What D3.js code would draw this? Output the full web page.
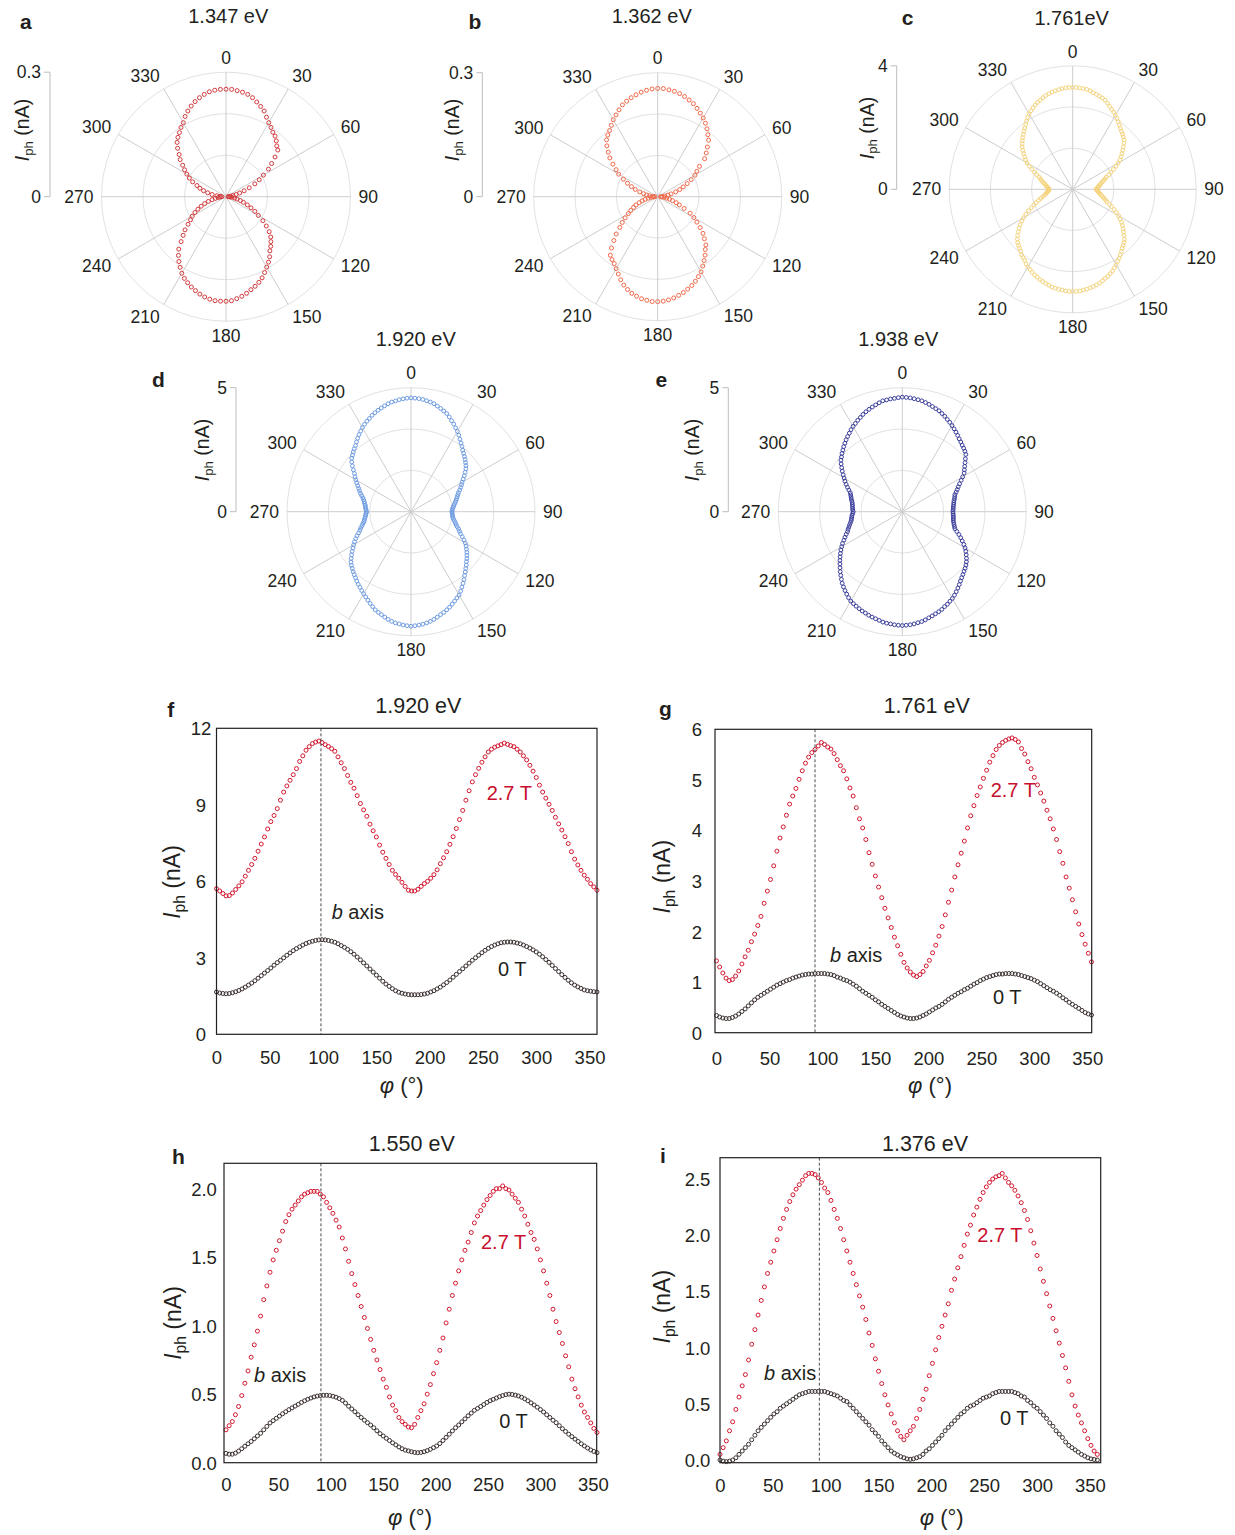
<!DOCTYPE html>
<html><head><meta charset="utf-8">
<script src="https://cdn.jsdelivr.net/npm/d3@7"></script>
<style>
body{margin:0;background:#fff}
svg{display:block}
text{font-family:"Liberation Sans",Arial,Helvetica,sans-serif;fill:#231f20}
</style>
</head><body>
<svg id="chart" width="1235" height="1535"></svg>
<script>
// ---------------- DATA ----------------
const angleTicks = [0,30,60,90,120,150,180,210,240,270,300,330];
const polarStepAB = 3;   // degrees between points, panels a,b
const polarStepCDE = 2;  // degrees between points, panels c,d,e
const polarTitles = ["1.347 eV","1.362 eV","1.761eV","1.920 eV","1.938 eV"];
const polarScaleMax = [0.3, 0.3, 4, 5, 5];
const polarScaleLabels = ["0.3","0.3","4","5","5"];

// Panel a (nA), 0..357 step 3
const polarA = [.259,.259,.257,.255,.252,.247,.240,.233,.226,.215,
 .206,.199,.192,.188,.181,.173,.168,.152,.136,.122,
 .104,.090,.076,.060,.046,.034,.025,.017,.011,.007,
 .005,.009,.014,.021,.027,.036,.044,.055,.066,.078,
 .090,.106,.120,.134,.145,.153,.161,.168,.179,.188,
 .196,.205,.214,.221,.227,.232,.238,.243,.247,.251,
 .252,.252,.252,.250,.247,.243,.238,.233,.227,.221,
 .213,.203,.193,.182,.170,.153,.139,.127,.113,.102,
 .094,.084,.074,.064,.054,.044,.034,.026,.019,.014,
 .010,.014,.022,.034,.045,.056,.066,.075,.088,.099,
 .109,.119,.129,.142,.152,.165,.176,.184,.191,.199,
 .206,.217,.226,.234,.241,.247,.252,.256,.258,.259];
// Panel b (nA), 0..357 step 3
const polarB = [.262,.262,.260,.258,.255,.251,.246,.241,.234,.227,
 .220,.212,.203,.193,.184,.170,.158,.146,.125,.113,
 .104,.091,.078,.066,.056,.045,.033,.025,.017,.010,
 .007,.010,.016,.022,.029,.037,.047,.056,.070,.088,
 .101,.113,.127,.141,.152,.165,.172,.182,.191,.200,
 .210,.217,.224,.230,.235,.240,.244,.248,.251,.253,
 .254,.254,.252,.250,.246,.242,.236,.229,.220,.210,
 .201,.193,.188,.182,.167,.150,.135,.118,.106,.094,
 .082,.073,.064,.056,.047,.039,.031,.023,.016,.010,
 .007,.012,.020,.027,.035,.045,.057,.068,.080,.093,
 .109,.120,.134,.149,.161,.174,.185,.192,.198,.206,
 .215,.222,.230,.238,.243,.248,.252,.256,.259,.261];
// Panel c (nA), 0..358 step 2
const polarC = [3.30,3.30,3.29,3.28,3.27,3.24,3.20,3.17,3.14,3.11,3.07,3.01,2.94,2.88,2.83,2.77,2.70,2.64,2.57,2.51,2.46,2.41,2.36,2.31,2.23,2.14,2.05,1.97,1.89,1.80,1.70,1.59,1.47,1.36,1.26,1.16,1.10,1.04,0.99,0.94,0.91,0.87,0.84,0.81,0.78,
 0.76,0.78,0.81,0.84,0.87,0.91,0.95,1.00,1.05,1.12,1.18,1.28,1.38,1.49,1.60,1.72,1.81,1.91,1.99,2.07,2.15,2.23,2.33,2.39,2.44,2.49,2.56,2.62,2.69,2.75,2.82,2.88,2.94,2.99,3.04,3.07,3.12,3.16,3.19,3.22,3.24,3.27,3.28,3.30,3.31,
 3.31,3.31,3.30,3.28,3.27,3.25,3.24,3.20,3.17,3.14,3.11,3.07,3.04,2.99,2.94,2.91,2.85,2.78,2.73,2.69,2.62,2.57,2.52,2.48,2.41,2.33,2.23,2.15,2.05,1.94,1.84,1.72,1.59,1.47,1.36,1.26,1.16,1.08,1.00,0.94,0.89,0.86,0.83,0.79,0.78,
 0.77,0.78,0.81,0.84,0.87,0.91,0.95,1.00,1.05,1.10,1.16,1.26,1.36,1.47,1.59,1.71,1.80,1.88,1.96,2.05,2.14,2.20,2.27,2.33,2.39,2.46,2.52,2.59,2.67,2.75,2.82,2.88,2.94,2.99,3.04,3.07,3.12,3.16,3.19,3.22,3.24,3.26,3.28,3.29,3.30];
// Panel d (nA), 0..358 step 2
const polarD = [4.59,4.58,4.57,4.55,4.52,4.49,4.45,4.39,4.33,4.27,4.21,4.12,4.02,3.93,3.83,3.74,3.64,3.53,3.43,3.34,3.24,3.17,3.10,3.03,2.96,2.89,2.81,2.70,2.59,2.48,2.38,2.31,2.23,2.15,2.06,2.01,1.96,1.91,1.87,1.83,1.78,1.74,1.71,1.68,1.66,
 1.65,1.66,1.67,1.69,1.70,1.74,1.79,1.84,1.89,1.96,2.04,2.11,2.19,2.30,2.42,2.53,2.62,2.70,2.78,2.86,2.94,3.01,3.10,3.18,3.27,3.36,3.47,3.57,3.67,3.78,3.88,3.94,4.01,4.08,4.15,4.21,4.27,4.32,4.38,4.44,4.49,4.53,4.56,4.58,4.60,
 4.62,4.60,4.58,4.55,4.53,4.49,4.44,4.38,4.32,4.27,4.21,4.13,4.05,3.97,3.89,3.82,3.75,3.68,3.62,3.55,3.48,3.42,3.36,3.29,3.23,3.16,3.06,2.96,2.86,2.76,2.67,2.58,2.48,2.38,2.28,2.19,2.13,2.06,2.00,1.94,1.91,1.88,1.85,1.83,1.81,
 1.79,1.81,1.83,1.85,1.86,1.90,1.93,1.97,2.02,2.09,2.17,2.24,2.31,2.39,2.48,2.57,2.66,2.75,2.87,3.00,3.12,3.22,3.28,3.35,3.42,3.48,3.57,3.66,3.75,3.83,3.92,3.99,4.06,4.12,4.19,4.25,4.30,4.35,4.40,4.45,4.49,4.51,4.54,4.56,4.58];
// Panel e (nA), 0..358 step 2
const polarE = [4.62,4.61,4.60,4.58,4.56,4.54,4.50,4.46,4.41,4.37,4.33,4.27,4.21,4.14,4.08,4.01,3.94,3.87,3.80,3.73,3.67,3.61,3.56,3.51,3.45,3.32,3.21,3.11,3.02,2.94,2.81,2.69,2.57,2.47,2.39,2.31,2.23,2.20,2.17,2.13,2.11,2.09,2.07,2.06,2.05,
 2.04,2.05,2.06,2.07,2.08,2.09,2.12,2.15,2.19,2.23,2.34,2.46,2.58,2.69,2.81,2.92,3.02,3.11,3.20,3.28,3.35,3.41,3.46,3.52,3.58,3.65,3.73,3.81,3.89,3.97,4.04,4.09,4.15,4.19,4.25,4.29,4.33,4.37,4.41,4.46,4.50,4.52,4.55,4.57,4.58,
 4.59,4.58,4.57,4.55,4.54,4.52,4.48,4.45,4.42,4.39,4.35,4.32,4.28,4.24,4.20,4.16,4.09,4.01,3.93,3.85,3.77,3.67,3.57,3.48,3.38,3.28,3.19,3.10,3.01,2.92,2.82,2.73,2.62,2.53,2.44,2.35,2.30,2.24,2.19,2.14,2.09,2.07,2.05,2.03,2.00,
 1.98,2.00,2.01,2.02,2.03,2.05,2.08,2.12,2.15,2.19,2.23,2.32,2.42,2.52,2.62,2.71,2.81,2.92,3.02,3.13,3.23,3.30,3.38,3.45,3.53,3.60,3.68,3.75,3.82,3.90,3.97,4.03,4.10,4.16,4.23,4.29,4.34,4.39,4.44,4.49,4.54,4.55,4.57,4.58,4.60];

// Cartesian panels: phi = index * cartStep (degrees)
const cartStep = 3;
const cartTitles = ["1.920 eV","1.761 eV","1.550 eV","1.376 eV"];
const seriesNames = ["2.7 T","0 T"];
const xTicks = [0,50,100,150,200,250,300,350];
const fYTicks = [0,3,6,9,12];
const gYTicks = [0,1,2,3,4,5,6];
const hYTicks = [0,0.5,1,1.5,2];
const iYTicks = [0,0.5,1,1.5,2,2.5];

const fHigh = [5.71,5.62,5.52,5.43,5.44,5.54,5.68,5.82,5.98,6.20,
 6.43,6.66,6.90,7.18,7.46,7.74,8.05,8.34,8.58,8.85,
 9.18,9.50,9.74,9.96,10.18,10.42,10.70,10.92,11.14,11.28,
 11.40,11.46,11.50,11.44,11.36,11.29,11.20,11.10,10.88,10.65,
 10.42,10.15,9.88,9.65,9.36,9.05,8.80,8.55,8.24,7.98,
 7.74,7.42,7.14,6.90,6.66,6.43,6.27,6.12,5.96,5.80,
 5.65,5.62,5.62,5.69,5.80,5.91,6.00,6.12,6.26,6.45,
 6.69,6.92,7.16,7.45,7.75,8.07,8.42,8.78,9.18,9.55,
 9.90,10.18,10.43,10.67,10.88,11.07,11.18,11.26,11.31,11.36,
 11.42,11.37,11.32,11.28,11.18,11.07,10.92,10.76,10.55,10.32,
 10.07,9.77,9.50,9.26,9.02,8.78,8.51,8.25,8.01,7.75,
 7.48,7.16,6.87,6.64,6.43,6.24,6.08,5.91,5.78,5.65];
const fZero = [1.66,1.62,1.60,1.59,1.60,1.63,1.67,1.72,1.78,1.85,
 1.93,2.01,2.10,2.20,2.30,2.40,2.50,2.60,2.71,2.81,
 2.90,3.00,3.10,3.19,3.28,3.36,3.43,3.50,3.56,3.61,
 3.65,3.68,3.70,3.71,3.70,3.68,3.65,3.61,3.55,3.48,
 3.41,3.33,3.24,3.14,3.03,2.92,2.80,2.68,2.56,2.44,
 2.32,2.20,2.08,1.97,1.88,1.79,1.71,1.65,1.61,1.58,
 1.56,1.55,1.55,1.55,1.56,1.58,1.61,1.66,1.71,1.78,
 1.85,1.94,2.03,2.13,2.24,2.35,2.46,2.57,2.68,2.79,
 2.90,3.00,3.10,3.20,3.29,3.37,3.44,3.50,3.55,3.59,
 3.61,3.62,3.62,3.61,3.58,3.55,3.50,3.44,3.38,3.31,
 3.23,3.14,3.04,2.93,2.82,2.70,2.58,2.46,2.34,2.23,
 2.12,2.02,1.93,1.86,1.80,1.74,1.71,1.69,1.67,1.66];
const gHigh = [1.42,1.30,1.18,1.08,1.03,1.05,1.12,1.22,1.36,1.50,
 1.63,1.80,1.95,2.12,2.30,2.56,2.80,3.03,3.30,3.59,
 3.85,4.07,4.30,4.52,4.68,4.83,5.01,5.18,5.33,5.45,
 5.54,5.60,5.67,5.74,5.70,5.65,5.61,5.52,5.40,5.28,
 5.18,5.02,4.84,4.68,4.45,4.23,4.05,3.82,3.56,3.33,
 3.10,2.88,2.67,2.46,2.27,2.08,1.89,1.72,1.55,1.39,
 1.28,1.20,1.14,1.11,1.15,1.21,1.32,1.43,1.58,1.73,
 1.91,2.10,2.33,2.58,2.82,3.08,3.32,3.55,3.79,4.05,
 4.29,4.49,4.69,4.86,5.03,5.19,5.35,5.48,5.60,5.68,
 5.74,5.78,5.81,5.83,5.80,5.75,5.62,5.51,5.36,5.22,
 5.05,4.90,4.74,4.58,4.40,4.23,4.03,3.82,3.58,3.35,
 3.08,2.86,2.63,2.39,2.15,1.94,1.75,1.57,1.40];
const gZero = [0.34,0.31,0.29,0.28,0.28,0.30,0.33,0.37,0.42,0.47,
 0.53,0.59,0.65,0.70,0.74,0.78,0.82,0.86,0.90,0.94,
 0.97,1.00,1.03,1.05,1.08,1.10,1.12,1.14,1.15,1.16,
 1.16,1.17,1.17,1.17,1.17,1.16,1.15,1.13,1.10,1.08,
 1.05,1.03,1.00,0.96,0.92,0.87,0.82,0.78,0.74,0.70,
 0.65,0.61,0.56,0.52,0.48,0.44,0.40,0.36,0.33,0.31,
 0.29,0.28,0.28,0.29,0.31,0.34,0.37,0.41,0.45,0.49,
 0.52,0.56,0.61,0.66,0.70,0.74,0.78,0.81,0.85,0.88,
 0.92,0.96,0.99,1.03,1.06,1.09,1.11,1.13,1.15,1.16,
 1.16,1.17,1.17,1.17,1.16,1.15,1.13,1.11,1.09,1.07,
 1.04,1.01,0.97,0.93,0.89,0.85,0.82,0.78,0.74,0.69,
 0.65,0.60,0.56,0.52,0.48,0.44,0.40,0.37,0.35];
const hHigh = [0.24,0.27,0.30,0.35,0.41,0.49,0.58,0.67,0.77,0.86,
 0.96,1.07,1.19,1.29,1.39,1.48,1.55,1.62,1.69,1.76,
 1.81,1.85,1.88,1.91,1.94,1.96,1.97,1.98,1.98,1.98,
 1.96,1.94,1.90,1.86,1.82,1.77,1.72,1.64,1.56,1.47,
 1.38,1.30,1.22,1.14,1.06,0.98,0.90,0.82,0.75,0.68,
 0.61,0.55,0.48,0.42,0.38,0.33,0.30,0.28,0.26,0.255,
 0.28,0.33,0.38,0.43,0.50,0.57,0.65,0.73,0.82,0.91,
 1.02,1.12,1.22,1.31,1.40,1.48,1.55,1.61,1.68,1.75,
 1.80,1.84,1.88,1.92,1.95,1.98,2.00,2.00,2.02,2.00,
 1.99,1.96,1.93,1.90,1.85,1.80,1.74,1.68,1.63,1.56,
 1.48,1.40,1.31,1.22,1.12,1.03,0.95,0.87,0.78,0.70,
 0.61,0.54,0.48,0.42,0.37,0.33,0.29,0.25,0.22];
const hZero = [0.068,0.062,0.062,0.070,0.085,0.102,0.120,0.138,0.155,0.175,
 0.195,0.215,0.240,0.265,0.290,0.307,0.324,0.340,0.357,0.372,
 0.387,0.400,0.413,0.426,0.440,0.452,0.463,0.472,0.480,0.486,
 0.490,0.492,0.492,0.490,0.485,0.478,0.468,0.455,0.435,0.412,
 0.392,0.372,0.350,0.330,0.310,0.292,0.275,0.255,0.233,0.212,
 0.195,0.178,0.162,0.145,0.130,0.115,0.102,0.092,0.086,0.080,
 0.075,0.073,0.075,0.080,0.088,0.098,0.110,0.122,0.140,0.162,
 0.185,0.208,0.232,0.255,0.275,0.298,0.320,0.342,0.362,0.382,
 0.396,0.410,0.425,0.440,0.452,0.462,0.472,0.482,0.490,0.497,
 0.500,0.498,0.493,0.487,0.478,0.466,0.452,0.437,0.421,0.405,
 0.388,0.370,0.350,0.330,0.310,0.292,0.270,0.248,0.228,0.208,
 0.190,0.172,0.155,0.138,0.122,0.107,0.093,0.082,0.073];
const iHigh = [0.05,0.11,0.17,0.26,0.34,0.45,0.56,0.66,0.76,0.89,
 1.03,1.16,1.29,1.42,1.54,1.66,1.76,1.86,1.96,2.06,
 2.15,2.23,2.30,2.36,2.41,2.45,2.49,2.53,2.55,2.55,
 2.54,2.51,2.47,2.42,2.38,2.31,2.23,2.15,2.06,1.96,
 1.86,1.76,1.66,1.56,1.46,1.36,1.25,1.13,1.02,0.90,
 0.79,0.68,0.58,0.49,0.41,0.33,0.26,0.21,0.18,0.22,
 0.26,0.30,0.37,0.45,0.54,0.63,0.75,0.86,0.98,1.09,
 1.19,1.29,1.39,1.51,1.61,1.71,1.81,1.91,2.01,2.09,
 2.18,2.25,2.32,2.38,2.43,2.47,2.50,2.52,2.53,2.55,
 2.51,2.47,2.44,2.40,2.35,2.29,2.22,2.14,2.04,1.93,
 1.82,1.70,1.59,1.48,1.37,1.26,1.15,1.04,0.93,0.82,
 0.70,0.58,0.48,0.40,0.33,0.26,0.19,0.13,0.08,0.05];
const iZero = [0.00,-0.01,-0.015,-0.01,0.00,0.02,0.05,0.08,0.11,0.14,
 0.18,0.22,0.26,0.29,0.32,0.35,0.38,0.41,0.43,0.46,
 0.48,0.50,0.52,0.54,0.56,0.58,0.59,0.60,0.61,0.61,
 0.61,0.61,0.61,0.61,0.60,0.59,0.58,0.57,0.55,0.53,
 0.52,0.49,0.46,0.43,0.40,0.37,0.34,0.31,0.27,0.24,
 0.21,0.17,0.14,0.11,0.08,0.06,0.045,0.03,0.02,0.01,
 0.006,0.01,0.02,0.03,0.05,0.08,0.10,0.13,0.16,0.19,
 0.22,0.26,0.29,0.32,0.35,0.38,0.41,0.43,0.46,0.48,
 0.49,0.51,0.53,0.55,0.56,0.57,0.59,0.60,0.61,0.61,
 0.61,0.61,0.61,0.60,0.59,0.57,0.56,0.53,0.51,0.48,
 0.46,0.43,0.40,0.37,0.33,0.30,0.26,0.23,0.20,0.16,
 0.13,0.11,0.09,0.07,0.05,0.035,0.02,0.01,0.005,0.00];

// ---------------- DRAWING ----------------
const svg = d3.select("#chart");
const TXT = "#231f20";
const HIGH_COLOR = "#d2172f", ZERO_COLOR = "#3b3030";

function letter(t, x, y){
  svg.append("text").attr("x",x).attr("y",y).attr("text-anchor","middle")
    .style("font-size","21px").style("font-weight","bold").text(t);
}
function title(t, x, y, size){
  svg.append("text").attr("x",x).attr("y",y).attr("text-anchor","middle")
    .style("font-size",size+"px").text(t);
}
function yTitle(x, y, size){
  const t = svg.append("text").attr("transform",`translate(${x},${y}) rotate(-90)`)
    .attr("text-anchor","middle").attr("dominant-baseline","central").style("font-size",size+"px");
  t.append("tspan").style("font-style","italic").text("I");
  t.append("tspan").attr("dy", size*0.3).style("font-size",(size*0.68)+"px").text("ph");
  t.append("tspan").attr("dy", -size*0.3).text(" (nA)");
}

function polarPanel(o){
  const g = svg.append("g");
  const r = d3.scaleLinear().domain([0, o.max]).range([0, o.R]);
  const rings = [o.max/3, 2*o.max/3, o.max];
  g.selectAll(".ring").data(rings).join("circle").attr("class","ring")
    .attr("cx",o.cx).attr("cy",o.cy).attr("r",d=>r(d))
    .attr("fill","none").attr("stroke","#e2e2e2").attr("stroke-width",1);
  g.selectAll(".spoke").data(angleTicks).join("line").attr("class","spoke")
    .attr("x1",o.cx).attr("y1",o.cy)
    .attr("x2",d=>o.cx + d3.pointRadial(d*Math.PI/180, r(o.max))[0])
    .attr("y2",d=>o.cy + d3.pointRadial(d*Math.PI/180, r(o.max))[1])
    .attr("stroke","#cdcdcd").attr("stroke-width",1);
  // angular labels: nearest box edge sits just outside the outer ring
  angleTicks.forEach(a=>{
    const rad = a*Math.PI/180, s = Math.sin(rad), c = -Math.cos(rad);
    const t = g.append("text").attr("text-anchor","middle").attr("dominant-baseline","central")
      .style("font-size","17.5px").text(String(a));
    const hw = t.node().getComputedTextLength()/2, hh = 6.3;
    const rr = o.R + 8;
    const sx = Math.abs(s) < 0.01 ? 0 : Math.sign(s);
    t.attr("x", o.cx + rr*s + sx*hw).attr("y", o.cy + rr*c + c*hh);
  });
  // data points
  const pts = o.values.map((v,i)=>d3.pointRadial(i*o.step*Math.PI/180, r(v)));
  g.selectAll(".pt").data(pts).join("circle").attr("class","pt")
    .attr("cx",d=>o.cx+d[0]).attr("cy",d=>o.cy+d[1]).attr("r",o.pr||2)
    .attr("fill","none").attr("stroke",o.color).attr("stroke-width",1);
  // radial scale bar
  const y0 = o.cy, y1 = o.cy - r(o.max);
  g.append("line").attr("x1",o.sbx).attr("x2",o.sbx).attr("y1",y0).attr("y2",y1).attr("stroke","#bdbdbd");
  [y0,y1].forEach(yy=>g.append("line").attr("x1",o.sbx-6).attr("x2",o.sbx).attr("y1",yy).attr("y2",yy).attr("stroke","#bdbdbd"));
  g.append("text").attr("x",o.sbx-9).attr("y",y1).attr("text-anchor","end").attr("dominant-baseline","central").style("font-size","17.5px").text(o.maxLabel);
  g.append("text").attr("x",o.sbx-9).attr("y",y0).attr("text-anchor","end").attr("dominant-baseline","central").style("font-size","17.5px").text("0");
  yTitle(o.ylx, o.yly, 19.5);
  title(o.title, o.tx, o.ty, 20);
  letter(o.letter, o.lx, o.ly);
}

polarPanel({values:polarA, step:polarStepAB, color:"#d23b3e", max:polarScaleMax[0], maxLabel:polarScaleLabels[0],
  cx:226, cy:196.7, R:124.5, sbx:50, ylx:21.7, yly:130, title:polarTitles[0], tx:228.3, ty:22.7, letter:"a", lx:25.8, ly:29.3});
polarPanel({values:polarB, step:polarStepAB, color:"#f0694a", max:polarScaleMax[1], maxLabel:polarScaleLabels[1],
  cx:657.7, cy:196.7, R:124, sbx:482.3, ylx:451.7, yly:130, title:polarTitles[1], tx:651.7, ty:22.7, letter:"b", lx:474.8, ly:29.3});
polarPanel({values:polarC, step:polarStepCDE, color:"#f5d47c", max:polarScaleMax[2], maxLabel:polarScaleLabels[2],
  cx:1072.7, cy:189.3, R:123.5, sbx:896.7, ylx:866.5, yly:128, title:polarTitles[2], tx:1071.7, ty:25, letter:"c", lx:907.5, ly:25, pr:1.9});
polarPanel({values:polarD, step:polarStepCDE, color:"#6e9ce2", max:polarScaleMax[3], maxLabel:polarScaleLabels[3],
  cx:411, cy:511.7, R:124, sbx:236, ylx:201.7, yly:450, title:polarTitles[3], tx:415.7, ty:346, letter:"d", lx:158.5, ly:386.7, pr:1.9});
polarPanel({values:polarE, step:polarStepCDE, color:"#3c3f9c", max:polarScaleMax[4], maxLabel:polarScaleLabels[4],
  cx:902.3, cy:511.7, R:124, sbx:728.3, ylx:691.7, yly:450, title:polarTitles[4], tx:898.3, ty:346, letter:"e", lx:661.3, ly:386.7, pr:1.9});

function cartPanel(o){
  const g = svg.append("g");
  const x = d3.scaleLinear().domain(o.xd).range([o.l, o.r]);
  const y = d3.scaleLinear().domain(o.yd).range([o.b, o.t]);
  const draw = (vals, color) => g.append("g").selectAll("circle").data(vals).join("circle")
    .attr("cx",(d,i)=>x(i*cartStep)).attr("cy",d=>y(d)).attr("r",2)
    .attr("fill","none").attr("stroke",color).attr("stroke-width",1);
  draw(o.zero, ZERO_COLOR);
  draw(o.high, HIGH_COLOR);
  g.append("line").attr("x1",x(o.bAxis)).attr("x2",x(o.bAxis)).attr("y1",o.t).attr("y2",o.b)
    .attr("stroke","#4a4a4a").attr("stroke-width",1).attr("stroke-dasharray","3,2");
  g.append("rect").attr("x",o.l).attr("y",o.t).attr("width",o.r-o.l).attr("height",o.b-o.t)
    .attr("fill","none").attr("stroke",TXT).attr("stroke-width",1.2);
  const ax = g.append("g").attr("transform",`translate(0,${o.b})`)
    .call(d3.axisBottom(x).tickValues(xTicks).tickSize(0).tickFormat(d3.format("d")));
  ax.select(".domain").remove();
  ax.attr("font-family",null).attr("font-size",null);
  ax.selectAll("text").attr("y", o.xlc - o.b).attr("dy","0.35em").style("font-size","18.5px").style("fill",TXT);
  const ay = g.append("g").attr("transform",`translate(${o.l},0)`)
    .call(d3.axisLeft(y).tickValues(o.yTicks).tickSize(0).tickFormat(o.fmt));
  ay.select(".domain").remove();
  ay.attr("font-family",null).attr("font-size",null);
  ay.selectAll("text").attr("x", o.ylx - o.l).attr("text-anchor","middle").attr("dy","0.35em")
    .style("font-size","18.5px").style("fill",TXT);
  // x title
  const xt = g.append("text").attr("x",o.xtx).attr("y",o.xty).attr("text-anchor","middle")
    .attr("dominant-baseline","central").style("font-size","22px");
  xt.append("tspan").style("font-style","italic").text("\u03c6");
  xt.append("tspan").text(" (\u00b0)");
  yTitle(o.ytx, o.yty, 23);
  // annotations
  const ba = g.append("text").attr("x",o.bx).attr("y",o.by).style("font-size","20px");
  ba.append("tspan").style("font-style","italic").text("b");
  ba.append("tspan").text(" axis");
  g.append("text").attr("x",o.hx).attr("y",o.hy).style("font-size","20px").style("fill","#c8102e").text(seriesNames[0]);
  g.append("text").attr("x",o.zx).attr("y",o.zy).style("font-size","20px").text(seriesNames[1]);
  title(o.title, o.tx, o.ty, 21.5);
  letter(o.letter, o.lx, o.ly);
}

const f0 = d3.format("d"), f1 = d3.format(".1f");
cartPanel({high:fHigh, zero:fZero, l:216.5, r:597, t:728.3, b:1034.3, xd:[0,357], yd:[0,12], yTicks:fYTicks, fmt:f0,
  bAxis:98, ylx:201, xlc:1058, xtx:401.7, xty:1085, ytx:171.7, yty:882,
  bx:331.7, by:919, hx:486.7, hy:800, zx:498, zy:976, title:cartTitles[0], tx:418.3, ty:712.7, letter:"f", lx:170.8, ly:716.7});
cartPanel({high:gHigh, zero:gZero, l:715, r:1091.7, t:729.3, b:1032.7, xd:[-1.4,354.2], yd:[0,6], yTicks:gYTicks, fmt:f0,
  bAxis:93, ylx:697, xlc:1058.3, xtx:930, xty:1085, ytx:661.7, yty:876.7,
  bx:830, by:961.7, hx:990.7, hy:797, zx:993, zy:1004, title:cartTitles[1], tx:926.7, ty:712.7, letter:"g", lx:665.3, ly:716});
cartPanel({high:hHigh, zero:hZero, l:224, r:596.7, t:1163.3, b:1462.7, xd:[-1.9,353.7], yd:[0,2.185], yTicks:hYTicks, fmt:f1,
  bAxis:90.6, ylx:204, xlc:1485, xtx:410, xty:1516.7, ytx:172.7, yty:1323,
  bx:254, by:1382.3, hx:481, hy:1249, zx:499.3, zy:1427.7, title:cartTitles[2], tx:411.7, ty:1150.7, letter:"h", lx:178.5, ly:1164});
cartPanel({high:iHigh, zero:iZero, l:720, r:1100.7, t:1157.7, b:1462.7, xd:[0,360.2], yd:[-0.024,2.69], yTicks:iYTicks, fmt:f1,
  bAxis:94, ylx:697.5, xlc:1486, xtx:941.7, xty:1516.7, ytx:661.7, yty:1306.7,
  bx:764, by:1380, hx:977.3, hy:1241.7, zx:1000, zy:1425, title:cartTitles[3], tx:925, ty:1150.7, letter:"i", lx:662.8, ly:1163.3});
</script>
</body></html>
